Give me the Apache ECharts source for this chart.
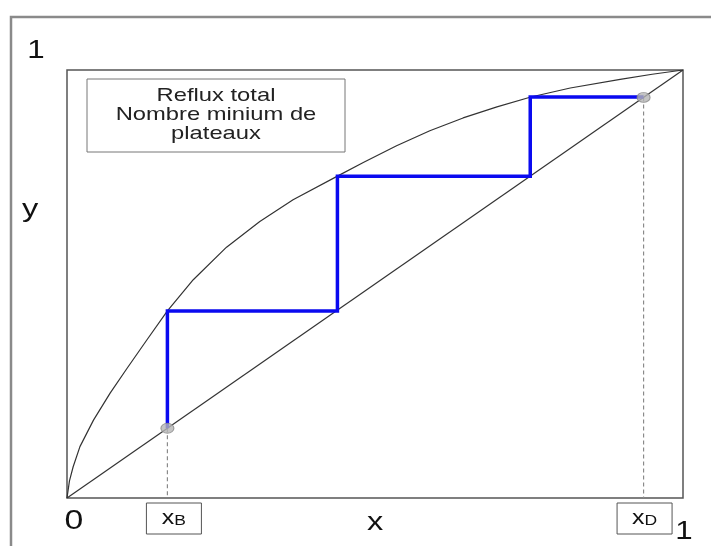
<!DOCTYPE html>
<html>
<head>
<meta charset="utf-8">
<script src="https://cdn.jsdelivr.net/npm/echarts@6/dist/echarts.min.js"></script>
<style>
  html, body { margin: 0; padding: 0; background: #fff; }
  #chart { width: 711px; height: 546px; }
</style>
</head>
<body>
<div id="chart"></div>
<script>
// courbe d'equilibre
var eqX = [0, 0.004, 0.010, 0.021, 0.043, 0.070, 0.097, 0.129, 0.163, 0.205, 0.259, 0.313, 0.367,
  0.439, 0.481, 0.535, 0.589, 0.643, 0.698, 0.753, 0.817, 0.898, 0.950, 1];
var eqY = [0, 0.040, 0.073, 0.120, 0.182, 0.245, 0.302, 0.368, 0.437, 0.510, 0.586, 0.646, 0.697,
  0.752, 0.784, 0.823, 0.858, 0.888, 0.914, 0.937, 0.958, 0.978, 0.990, 1];

// diagonale y = x
var diagX = [0, 1];
var diagY = [0, 1];

// escalier (reflux total)
var stairX = [0.163, 0.163, 0.439, 0.439, 0.752, 0.752, 0.936];
var stairY = [0.163, 0.437, 0.437, 0.752, 0.752, 0.937, 0.937];

// points xB et xD
var ptX = [0.163, 0.936];
var ptSub = ["B", "D"];

var legendLines = ["Reflux total", "Nombre minium de", "plateaux"];

var chart = echarts.init(document.getElementById("chart"));

function pairs(xs, ys) {
  return xs.map(function (x, i) { return [x, ys[i]]; });
}

var dropSeries = ptX.map(function (x) {
  return {
    type: "line",
    data: [[x, x], [x, 0]],
    showSymbol: false,
    silent: true,
    lineStyle: { color: "#8a8a8a", width: 1.2, type: [4, 3] },
    z: 2
  };
});

var option = {
  animation: false,
  grid: {
    left: 67, top: 70, width: 616, height: 428,
    show: true, borderColor: "#555", borderWidth: 1.5, backgroundColor: "transparent"
  },
  xAxis: {
    type: "value", min: 0, max: 1,
    axisLine: { show: false }, axisTick: { show: false },
    axisLabel: { show: false }, splitLine: { show: false }
  },
  yAxis: {
    type: "value", min: 0, max: 1,
    axisLine: { show: false }, axisTick: { show: false },
    axisLabel: { show: false }, splitLine: { show: false }
  },
  series: [
    {
      type: "line",
      data: pairs(eqX, eqY),
      showSymbol: false,
      lineStyle: { color: "#333", width: 1.2, join: "round" },
      z: 3
    },
    {
      type: "line",
      data: pairs(diagX, diagY),
      showSymbol: false,
      lineStyle: { color: "#333", width: 1.2 },
      z: 3
    },
    {
      type: "line",
      data: pairs(stairX, stairY),
      showSymbol: false,
      lineStyle: { color: "#0a0af0", width: 3.5, join: "miter" },
      z: 4
    }
  ].concat(dropSeries).concat([
    {
      type: "scatter",
      data: pairs(ptX, ptX),
      symbol: "circle",
      symbolSize: [13, 10],
      itemStyle: { color: "#b5b5b5", borderColor: "#8a8a8a", borderWidth: 1 },
      z: 6
    }
  ])
};
chart.setOption(option);

// textes places via l'echelle du graphique
function px(x, y) { return chart.convertToPixel({ gridIndex: 0 }, [x, y]); }

var txtFont = '"Liberation Sans", Arial, sans-serif';
var stretch = 1.25;  // le texte de l'image est etire en largeur

function label(x, y, text, size) {
  return { type: "text", x: x, y: y, scaleX: stretch,
    style: { text: text, font: size + "px " + txtFont, fill: "#111", align: "center", verticalAlign: "middle" } };
}

var elements = [
  // cadre exterieur
  { type: "rect", shape: { x: 11, y: 17, width: 760, height: 600 },
    style: { fill: "none", stroke: "#8a8a8a", lineWidth: 2.5 }, silent: true }
];

// boite legende
var p01 = px(0, 1);
var boxL = p01[0] + 20, boxT = p01[1] + 9;
elements.push({ type: "rect", shape: { x: boxL, y: boxT, width: 258, height: 73 },
  style: { fill: "#fff", stroke: "#777", lineWidth: 1 } });
legendLines.forEach(function (t, i) {
  var el = label(boxL + 129, boxT + 16.5 + i * 19, t, 19);
  el.style.fill = "#222";
  elements.push(el);
});

// etiquettes 0, 1, x, y
var p00 = px(0, 0), p10 = px(1, 0);
elements.push(label(p01[0] - 31, p01[1] - 19, "1", 25));
elements.push(label(p00[0] + 7, p00[1] + 24, "0", 27));
elements.push(label(p10[0] + 1, p10[1] + 34, "1", 25));
var pxMid = px(0.5, 0);
elements.push(label(pxMid[0], pxMid[1] + 25, "x", 26));
var pyMid = px(0, 0.673);
elements.push(label(pyMid[0] - 37, pyMid[1], "y", 26));

// boites xB et xD
ptX.forEach(function (x, i) {
  var p = px(x, 0);
  var cx = p[0] + (i === 0 ? 6.5 : 1);
  var cy = p[1] + 20.5;
  elements.push({ type: "rect", shape: { x: cx - 27.5, y: cy - 15.5, width: 55, height: 31 },
    style: { fill: "#fff", stroke: "#555", lineWidth: 1 } });
  elements.push({ type: "text", x: cx, y: cy, scaleX: stretch,
    style: {
      text: "{a|x}{b|" + ptSub[i] + "}",
      align: "center", verticalAlign: "middle",
      rich: {
        a: { font: "20px " + txtFont, fill: "#111", verticalAlign: "bottom" },
        b: { font: "14px " + txtFont, fill: "#111", verticalAlign: "bottom", padding: [6, 0, 0, 0] }
      }
    } });
});

chart.setOption({ graphic: { elements: elements } });
</script>
</body>
</html>
